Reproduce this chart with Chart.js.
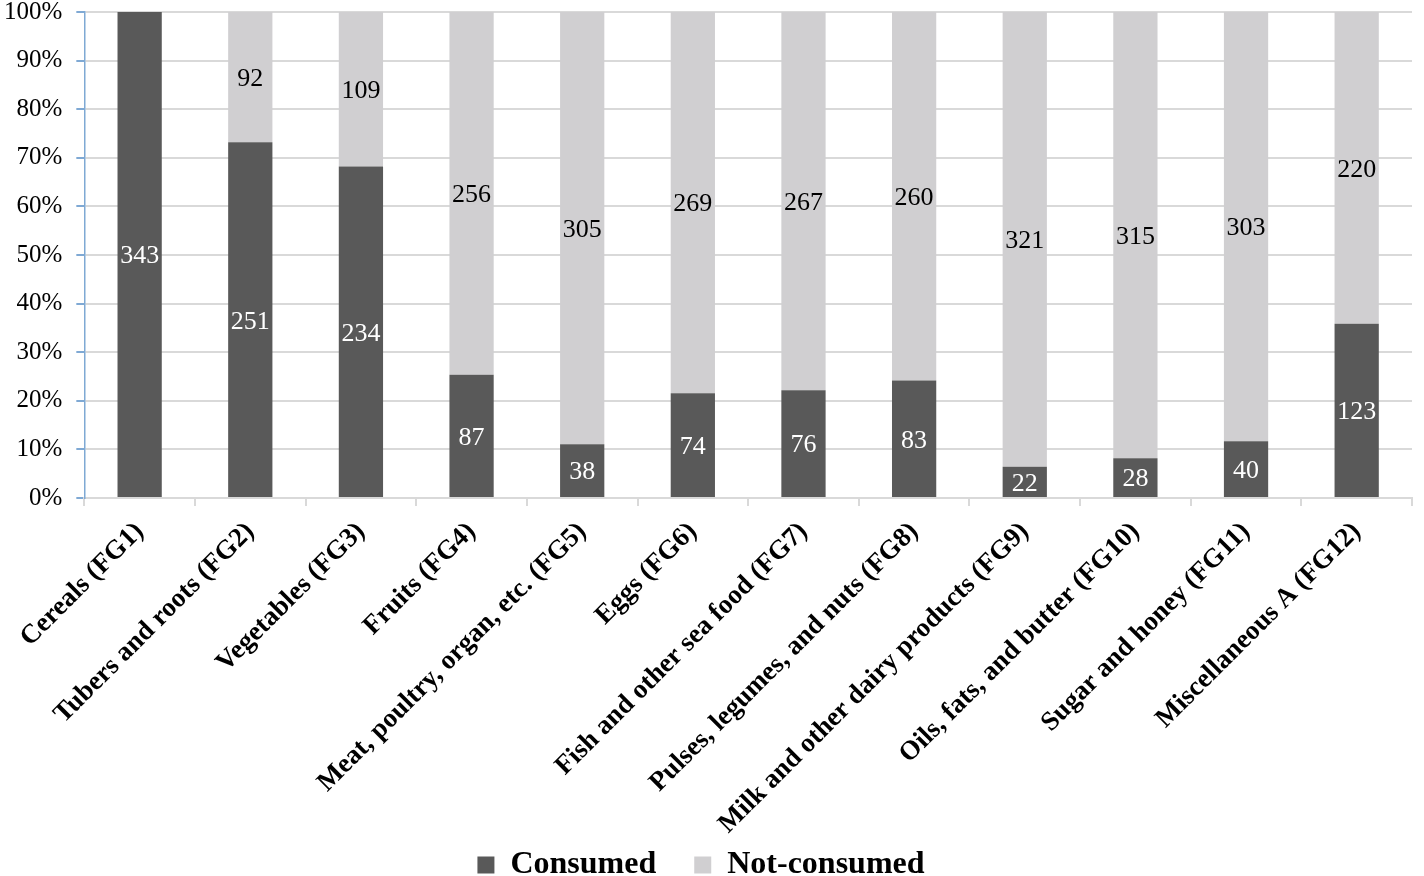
<!DOCTYPE html>
<html>
<head>
<meta charset="utf-8">
<script src="https://cdn.jsdelivr.net/npm/chart.js@4"></script>
<style>
  html, body { margin: 0; padding: 0; background: #fff; }
  #wrap { width: 1424px; height: 876px; }
</style>
</head>
<body>
<div id="wrap"><canvas id="grafico"></canvas></div>
<script>
// Grupos de alimentos
const groups = [
    'Cereals (FG1)',
    'Tubers and roots (FG2)',
    'Vegetables (FG3)',
    'Fruits (FG4)',
    'Meat, poultry, organ, etc. (FG5)',
    'Eggs (FG6)',
    'Fish and other sea food (FG7)',
    'Pulses, legumes, and nuts (FG8)',
    'Milk and other dairy products (FG9)',
    'Oils, fats, and butter (FG10)',
    'Sugar and honey (FG11)',
    'Miscellaneous A (FG12)'
];

const consumed    = [343, 251, 234, 87, 38, 74, 76, 83, 22, 28, 40, 123];
const notConsumed = [0, 92, 109, 256, 305, 269, 267, 260, 321, 315, 303, 220];

const yTicks = [0, 10, 20, 30, 40, 50, 60, 70, 80, 90, 100];

// 100% apilado
const totals = consumed.map((c, i) => c + notConsumed[i]);
const pctConsumed = consumed.map((c, i) => c / totals[i] * 100);
const pctNot = notConsumed.map((c, i) => c / totals[i] * 100);

const serif = "'Liberation Serif', 'Times New Roman', serif";

// etiquetas de valor dentro de las barras
const etiquetas = {
    id: 'etiquetas',
    afterDatasetsDraw(chart) {
        const ctx = chart.ctx;
        const raw = [consumed, notConsumed];
        const colores = ['#ffffff', '#000000'];
        ctx.save();
        ctx.font = '26px ' + serif;
        ctx.textAlign = 'center';
        ctx.textBaseline = 'middle';
        chart.data.datasets.forEach((ds, d) => {
            const meta = chart.getDatasetMeta(d);
            meta.data.forEach((bar, i) => {
                const v = raw[d][i];
                if (!v) return;
                const mid = (bar.y + bar.base) / 2;
                ctx.fillStyle = colores[d];
                ctx.fillText(String(v), bar.x, mid + 2);
            });
        });
        ctx.restore();
    }
};

let barras = document.getElementById('grafico').getContext('2d');

var chart = new Chart(barras, {
    type: 'bar',
    data: {
        labels: groups,
        datasets: [
            {
                label: 'Consumed',
                data: pctConsumed,
                backgroundColor: '#595959',
                barPercentage: 0.4,
                categoryPercentage: 1
            },
            {
                label: 'Not-consumed',
                data: pctNot,
                backgroundColor: '#d0cfd1',
                barPercentage: 0.4,
                categoryPercentage: 1
            }
        ]
    },
    options: {
        responsive: true,
        maintainAspectRatio: false,
        animation: false,
        layout: { padding: { top: 12, right: 12, left: -10, bottom: -15 } },
        plugins: {
            tooltip: { enabled: false },
            legend: {
                position: 'bottom',
                labels: {
                    color: '#000',
                    font: { family: serif, size: 32, weight: 'bold' },
                    boxWidth: 17,
                    boxHeight: 17,
                    padding: 6,
                    // separacion entre los dos elementos
                    generateLabels: (c) => {
                        const items = Chart.defaults.plugins.legend.labels.generateLabels(c);
                        items[0].text += '\u2003';
                        return items;
                    }
                }
            }
        },
        scales: {
            x: {
                stacked: true,
                afterFit: (axis) => { axis.height = 345; },
                grid: {
                    drawOnChartArea: false,
                    tickLength: 8,
                    color: '#d9d9d9',
                    lineWidth: 2
                },
                border: { color: '#d9d9d9', width: 2 },
                ticks: {
                    color: '#000',
                    font: { family: serif, size: 27, weight: 'bold' },
                    minRotation: 45,
                    maxRotation: 45,
                    autoSkip: false,
                    padding: 10
                }
            },
            y: {
                stacked: true,
                min: 0,
                max: 100,
                afterBuildTicks: (axis) => { axis.ticks = yTicks.map(v => ({ value: v })); },
                afterFit: (axis) => { axis.paddingTop = 0; axis.paddingBottom = 0; },
                grid: {
                    color: '#d9d9d9',
                    lineWidth: 2,
                    tickLength: 8,
                    tickColor: '#7fa9d4'
                },
                border: { color: '#7fa9d4', width: 1.5 },
                ticks: {
                    color: '#000',
                    font: { family: serif, size: 25 },
                    padding: 14,
                    callback: (v) => v + '%'
                }
            }
        }
    },
    plugins: [etiquetas]
});
</script>
</body>
</html>
